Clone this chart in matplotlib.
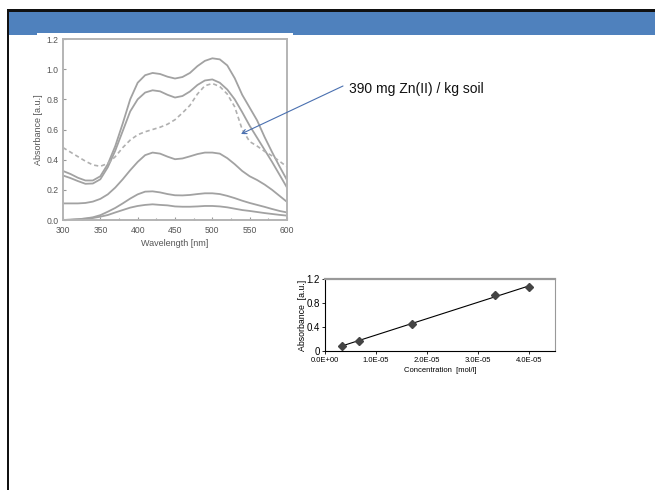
import numpy as np
import matplotlib
matplotlib.use("Agg")
import matplotlib.pyplot as plt
from matplotlib.patches import Rectangle

plt.rcParams['font.family'] = ['Liberation Sans', 'DejaVu Sans']

# ---------------- data ----------------
wavelength = [300, 310, 320, 330, 340, 350, 360, 370, 380, 390, 400, 410, 420, 430, 440,
              450, 460, 470, 480, 490, 500, 510, 520, 530, 540, 550, 560, 570, 580, 590, 600]

spec_a = [0.325, 0.305, 0.28, 0.262, 0.262, 0.29, 0.37, 0.49, 0.64, 0.80, 0.91, 0.96, 0.975, 0.968, 0.95,
          0.938, 0.948, 0.975, 1.02, 1.055, 1.072, 1.065, 1.025, 0.94, 0.83, 0.745, 0.66, 0.55, 0.45, 0.355, 0.265]
spec_b = [0.295, 0.278, 0.258, 0.24, 0.242, 0.27, 0.35, 0.46, 0.59, 0.72, 0.80, 0.845, 0.86, 0.853, 0.83,
          0.812, 0.822, 0.852, 0.895, 0.925, 0.932, 0.91, 0.865, 0.80, 0.715, 0.625, 0.545, 0.465, 0.385, 0.30, 0.215]
spec_soil = [0.48, 0.45, 0.42, 0.39, 0.365, 0.356, 0.375, 0.42, 0.48, 0.53, 0.565, 0.585, 0.60, 0.615, 0.635,
             0.665, 0.71, 0.76, 0.835, 0.89, 0.905, 0.885, 0.835, 0.75, 0.60, 0.52, 0.49, 0.455, 0.425, 0.39, 0.352]
spec_c = [0.11, 0.11, 0.11, 0.113, 0.122, 0.14, 0.17, 0.215, 0.27, 0.33, 0.385, 0.43, 0.447, 0.44, 0.42,
          0.403, 0.408, 0.422, 0.437, 0.447, 0.447, 0.44, 0.41, 0.37, 0.325, 0.29, 0.265, 0.235, 0.2, 0.16, 0.12]
spec_d = [0.0, 0.002, 0.005, 0.01, 0.018, 0.032, 0.055, 0.08, 0.11, 0.142, 0.17, 0.188, 0.19, 0.183, 0.172,
          0.164, 0.163, 0.166, 0.172, 0.177, 0.177, 0.172, 0.16, 0.145, 0.128, 0.113, 0.1, 0.087, 0.073, 0.06, 0.05]
spec_e = [0.0, 0.002, 0.005, 0.009, 0.013, 0.022, 0.033, 0.05, 0.066, 0.082, 0.093, 0.1, 0.104, 0.1, 0.097,
          0.09, 0.088, 0.088, 0.09, 0.093, 0.093, 0.09, 0.084, 0.075, 0.066, 0.06, 0.053, 0.046, 0.04, 0.034, 0.029]

concentration = [3.3e-6, 6.7e-6, 1.7e-5, 3.33e-5, 4.0e-5]
absorbance = [0.09, 0.17, 0.45, 0.93, 1.07]

annotation_text = "390 mg Zn(II) / kg soil"
conc_ticks = [0, 1e-5, 2e-5, 3e-5, 4e-5]
conc_tick_labels = ["0.0E+00", "1.0E-05", "2.0E-05", "3.0E-05", "4.0E-05"]
abs_ticks = [0, 0.4, 0.8, 1.2]
abs_tick_labels = ["0", "0.4", "0.8", "1.2"]

# ---------------- figure ----------------
W, H = 655, 490
fig = plt.figure(figsize=(W / 100, H / 100), dpi=100)
fig.patch.set_facecolor('white')

def fpos(left, top, right, bottom):
    return [left / W, 1 - bottom / H, (right - left) / W, (bottom - top) / H]

# background (slide) in pixel coords
bg = fig.add_axes([0, 0, 1, 1], zorder=0)
bg.set_xlim(0, W)
bg.set_ylim(H, 0)
bg.axis('off')
bg.add_patch(Rectangle((9, 12), W - 9, 23, facecolor='#4f81bd', edgecolor='none'))
bg.add_patch(Rectangle((6.5, 9), W, 2.6, facecolor='#111111', edgecolor='none'))
bg.add_patch(Rectangle((6.5, 9), 2.5, H, facecolor='#111111', edgecolor='none'))
bg.add_patch(Rectangle((37, 33), 256, 217, facecolor='white', edgecolor='none'))

# ---------------- spectra chart ----------------
ax1 = fig.add_axes(fpos(63, 39, 287, 220), zorder=2)
gray = '#a2a2a2'
for s in [spec_a, spec_b, spec_c, spec_d, spec_e]:
    ax1.plot(wavelength, s, color=gray, lw=1.3, solid_capstyle='round', solid_joinstyle='round')
ax1.plot(wavelength, spec_soil, color='#b0b0b0', lw=1.2, ls=(0, (2.5, 1.8)))
ax1.set_xlim(300, 600)
ax1.set_ylim(0, 1.2)
ax1.set_xticks([300, 350, 400, 450, 500, 550, 600])
ax1.set_xticks(np.arange(300, 601, 25), minor=True)
ax1.set_yticks([0, 0.2, 0.4, 0.6, 0.8, 1.0, 1.2])
ax1.set_yticklabels([f"{v:.1f}" for v in [0, 0.2, 0.4, 0.6, 0.8, 1.0, 1.2]])
ax1.tick_params(which='both', direction='in', color='#999999', labelsize=6.2,
                labelcolor='#555555', length=2.5, width=0.8)
ax1.tick_params(axis='x', pad=4)
ax1.tick_params(axis='y', pad=3)
ax1.tick_params(which='minor', length=1.5)
for sp in ax1.spines.values():
    sp.set_color('#b4b4b4')
    sp.set_linewidth(1.4)
ax1.set_xlabel("Wavelength [nm]", fontsize=6.5, color='#555555', labelpad=3)
ax1.set_ylabel("Absorbance [a.u.]", fontsize=6.5, color='#555555', labelpad=3)

# overlay for annotation (on top of the chart)
ov = fig.add_axes([0, 0, 1, 1], zorder=5)
ov.set_xlim(0, W)
ov.set_ylim(H, 0)
ov.axis('off')
ov.patch.set_alpha(0)
ov.annotate("", xy=(241, 134), xytext=(343, 86),
            arrowprops=dict(arrowstyle='->', color='#4a70b0', lw=0.8,
                            shrinkA=0, shrinkB=0, mutation_scale=8))
ov.text(349, 89, annotation_text, fontsize=10, va='center', ha='left', color='#111111')

# ---------------- calibration chart ----------------
ax2 = fig.add_axes(fpos(325, 279, 555, 351), zorder=2)
fit = np.polyfit(concentration, absorbance, 1)
xfit = np.array([concentration[0], concentration[-1]])
ax2.plot(xfit, np.polyval(fit, xfit), color='black', lw=0.8)
ax2.plot(concentration, absorbance, ls='none', marker='D', ms=4.2,
         color='#444444', mec='#444444')
ax2.set_xlim(0, 4.5e-5)
ax2.set_ylim(0, 1.2)
ax2.set_xticks(conc_ticks)
ax2.set_xticklabels(conc_tick_labels)
ax2.set_yticks(abs_ticks)
ax2.set_yticklabels(abs_tick_labels)
ax2.tick_params(axis='x', direction='out', length=2.5, width=0.6, labelsize=5.5, pad=2)
ax2.tick_params(axis='y', direction='out', length=2.5, width=0.6, labelsize=7, pad=1)
ax2.spines['left'].set_color('black')
ax2.spines['left'].set_linewidth(0.8)
ax2.spines['bottom'].set_color('black')
ax2.spines['bottom'].set_linewidth(0.8)
ax2.spines['top'].set_color('#999999')
ax2.spines['top'].set_linewidth(1.6)
ax2.spines['right'].set_color('#999999')
ax2.spines['right'].set_linewidth(0.8)
ax2.set_xlabel("Concentration  [mol/l]", fontsize=5.5, labelpad=2)
ax2.set_ylabel("Absorbance  [a.u.]", fontsize=6.3, labelpad=0)

fig.savefig("out.png", dpi=100, facecolor='white')
